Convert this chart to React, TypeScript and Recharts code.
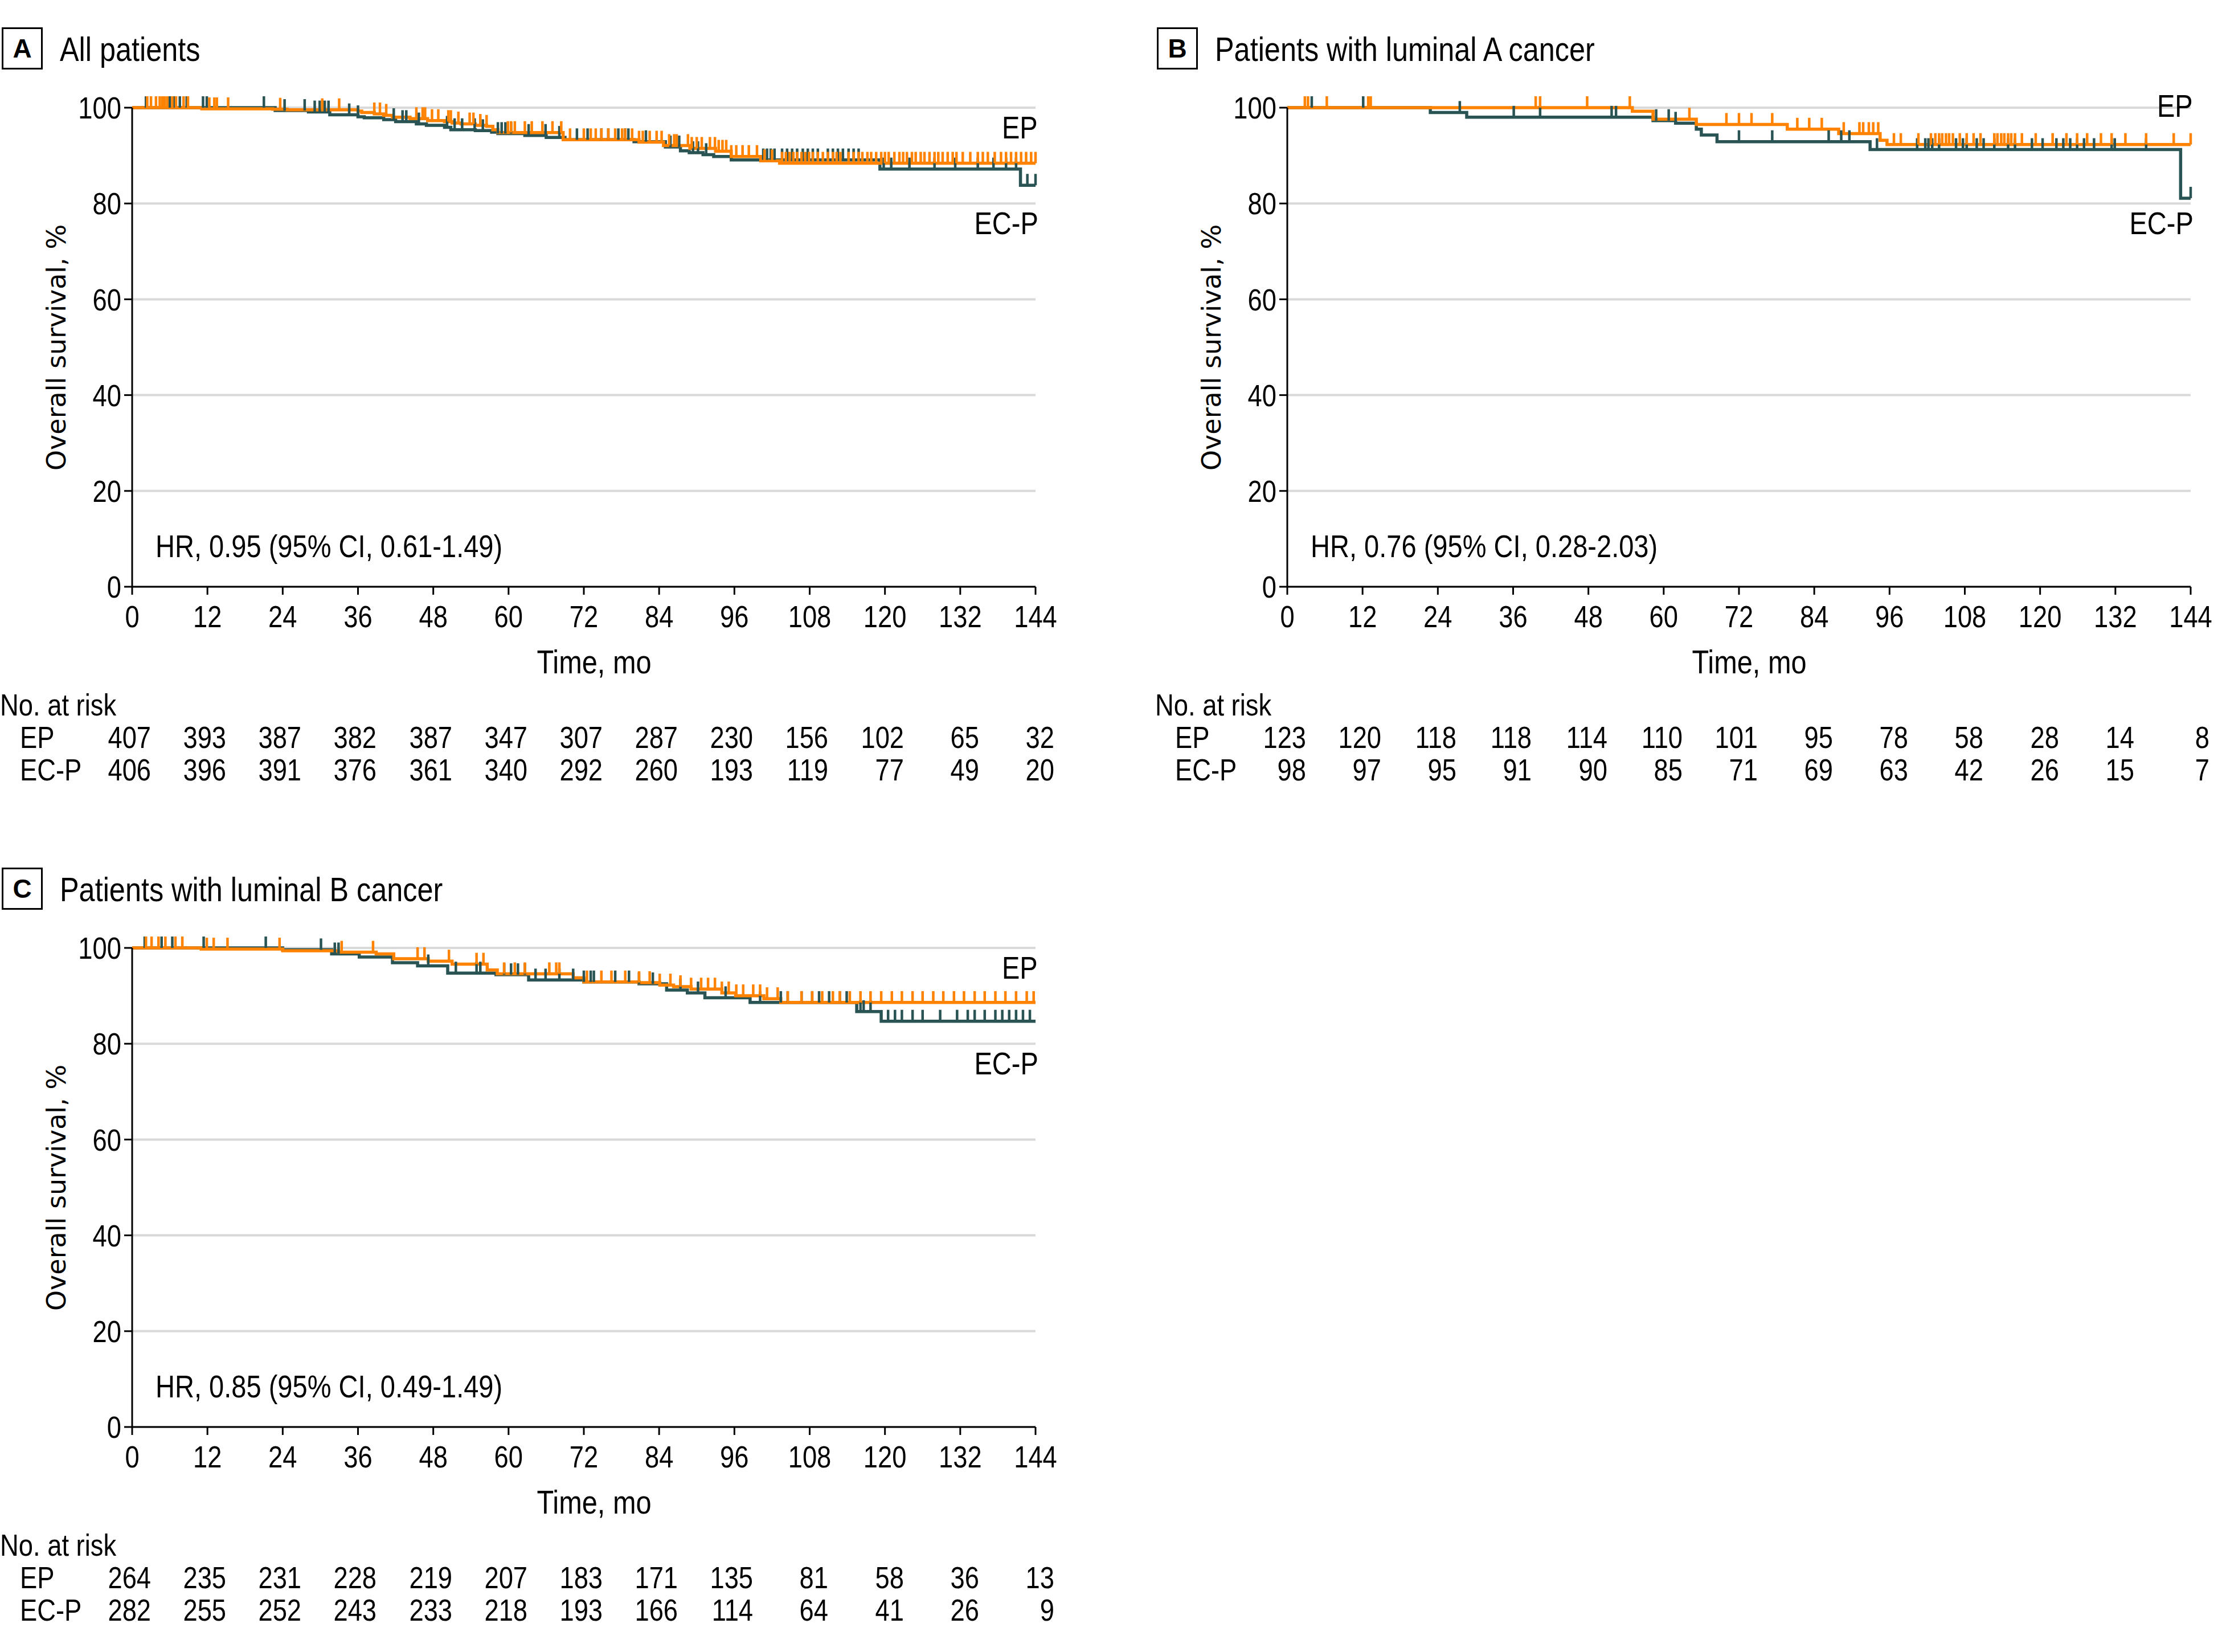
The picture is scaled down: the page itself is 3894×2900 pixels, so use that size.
import { ComposedChart, Line, Scatter, XAxis, YAxis, CartesianGrid } from 'recharts';

const monthTicks = [0, 12, 24, 36, 48, 60, 72, 84, 96, 108, 120, 132, 144];
const survTicks = [0, 20, 40, 60, 80, 100];

// A: all patients
const aEpTime = [0, 11.1, 22.4, 24.7, 36.0, 36.6, 38.6, 40.1, 41.5, 44.3, 47.1, 49.8, 51.0, 52.4, 54.7, 56.5, 57.5, 58.3, 68.7, 80.8, 84.7, 88.9, 93.0, 95.5, 100.2, 103.2, 144];
const aEpSurv = [100, 99.76, 99.68, 99.56, 99.29, 99.0, 98.7, 98.4, 98.0, 97.7, 97.3, 97.1, 96.8, 96.6, 96.3, 96.1, 95.4, 94.8, 93.3, 92.8, 92.1, 91.5, 90.9, 89.8, 88.9, 88.4, 88.4];
const aEpCensor = [2.4, 3.0, 3.8, 4.4, 4.8, 5.2, 5.6, 6.4, 7.0, 8.2, 8.9, 12.3, 13.1, 13.5, 15.3, 23.6, 30.3, 33.0, 38.6, 39.5, 40.5, 45.3, 46.3, 46.7, 47.8, 48.8, 50.4, 50.8, 52.0, 53.8, 54.4, 55.5, 56.5, 59.9, 60.4, 61.0, 62.6, 63.7, 65.4, 67.0, 68.4, 69.8, 72.0, 73.1, 73.9, 74.8, 75.9, 77.0, 78.1, 78.6, 79.7, 80.8, 81.4, 82.5, 83.6, 84.4, 85.6, 86.4, 86.8, 88.6, 89.2, 90.0, 90.8, 92.1, 92.9, 93.5, 94.1, 94.7, 95.5, 96.3, 97.3, 98.3, 99.6, 100.8, 102.0, 103.6, 104.2, 104.8, 105.4, 106.0, 106.7, 107.3, 107.9, 108.5, 109.3, 110.1, 110.9, 111.7, 112.3, 112.9, 114.2, 115.0, 115.8, 116.4, 117.2, 117.8, 118.6, 119.4, 120.0, 120.6, 121.5, 122.3, 122.9, 123.5, 124.3, 124.9, 125.7, 126.3, 127.1, 127.9, 128.5, 129.2, 130.0, 130.8, 131.4, 132.4, 133.6, 134.8, 135.6, 136.4, 137.5, 138.5, 139.3, 140.1, 140.9, 141.7, 142.5, 143.3, 144.0];
const aEcTime = [0, 22.8, 28.1, 31.5, 36.0, 37.0, 40.1, 42.0, 45.3, 46.9, 49.8, 50.8, 54.7, 57.3, 58.3, 62.6, 66.0, 69.0, 80.0, 85.0, 87.4, 88.8, 91.0, 92.7, 95.5, 119.2, 141.6, 144];
const aEcSurv = [100, 99.4, 99.1, 98.5, 98.1, 97.9, 97.5, 97.1, 96.6, 96.3, 95.9, 95.4, 95.2, 94.9, 94.6, 94.2, 93.8, 93.3, 92.9, 91.8, 91.0, 90.6, 90.2, 89.8, 89.1, 87.2, 83.8, 83.8];
const aEcCensor = [2.2, 6.0, 6.6, 7.6, 8.7, 11.3, 11.9, 21.0, 24.3, 27.5, 29.1, 29.9, 30.7, 31.3, 34.6, 36.0, 41.7, 43.1, 43.7, 45.7, 50.2, 51.4, 52.6, 54.6, 55.9, 58.3, 58.9, 59.5, 60.4, 63.2, 65.9, 68.1, 70.9, 72.6, 74.8, 75.9, 77.5, 78.6, 79.1, 81.9, 85.8, 87.2, 89.4, 90.2, 91.5, 100.6, 101.2, 101.8, 102.4, 103.6, 104.4, 105.2, 106.0, 106.9, 107.7, 108.5, 109.3, 110.9, 111.7, 112.5, 113.3, 114.2, 115.0, 115.8, 119.8, 121.0, 123.9, 127.9, 131.2, 134.8, 137.3, 139.3, 140.9, 142.7, 144.0];
const aRiskEp = [407, 393, 387, 382, 387, 347, 307, 287, 230, 156, 102, 65, 32];
const aRiskEc = [406, 396, 391, 376, 361, 340, 292, 260, 193, 119, 77, 49, 20];

// B: luminal A
const bEpTime = [0, 55.0, 58.3, 65.2, 79.7, 87.9, 94.5, 95.6, 144];
const bEpSurv = [100, 99.25, 97.6, 96.5, 95.5, 94.6, 93.2, 92.3, 92.3];
const bEpCensor = [2.8, 3.3, 6.3, 12.9, 13.3, 39.6, 40.3, 47.8, 54.6, 64.1, 70.0, 72.0, 74.0, 77.3, 81.3, 83.2, 85.2, 88.7, 91.2, 91.8, 92.7, 93.4, 94.2, 96.7, 97.8, 100.6, 102.6, 103.3, 103.9, 104.4, 105.0, 105.5, 106.1, 107.2, 108.3, 109.4, 110.5, 112.7, 113.2, 113.8, 114.3, 114.9, 115.4, 116.0, 117.1, 119.3, 122.0, 124.2, 125.9, 127.5, 129.7, 131.4, 133.6, 136.9, 141.3, 144.0];
const bEcTime = [0, 22.8, 28.6, 58.3, 61.9, 65.2, 66.0, 68.5, 92.9, 142.4, 144];
const bEcSurv = [100, 99.0, 98.0, 97.3, 96.75, 95.5, 94.3, 92.9, 91.25, 81.1, 81.1];
const bEcCensor = [3.9, 12.1, 27.5, 36.1, 40.3, 51.7, 52.4, 58.8, 60.8, 61.9, 72.0, 77.3, 86.3, 88.3, 89.6, 94.0, 100.4, 101.7, 102.2, 102.8, 103.9, 106.6, 107.7, 108.3, 109.9, 111.0, 112.7, 114.9, 116.0, 118.7, 120.4, 122.6, 123.7, 124.8, 125.9, 127.0, 128.6, 131.4, 131.9, 136.9, 144.0];
const bRiskEp = [123, 120, 118, 118, 114, 110, 101, 95, 78, 58, 28, 14, 8];
const bRiskEc = [98, 97, 95, 91, 90, 85, 71, 69, 63, 42, 26, 15, 7];

// C: luminal B
const cEpTime = [0, 11.0, 24.0, 32.9, 38.9, 41.7, 47.2, 51.0, 56.6, 58.2, 70.3, 72.0, 80.8, 84.1, 86.3, 89.1, 94.0, 96.2, 100.7, 103.4, 144];
const cEpSurv = [100, 99.75, 99.4, 99.1, 98.75, 97.75, 97.25, 96.6, 95.4, 94.6, 93.75, 92.9, 92.75, 92.25, 91.9, 91.4, 90.6, 90.0, 89.4, 88.6, 88.6];
const cEpCensor = [2.2, 3.1, 4.2, 5.3, 6.9, 8.0, 11.9, 13.0, 15.2, 23.5, 33.4, 38.4, 45.5, 46.6, 50.5, 54.9, 56.0, 59.3, 61.0, 62.6, 66.5, 67.6, 68.1, 72.5, 74.8, 76.4, 78.6, 80.8, 82.5, 84.1, 85.8, 87.4, 89.1, 90.7, 91.8, 92.9, 94.0, 95.1, 96.3, 97.4, 99.0, 100.1, 101.2, 102.9, 104.5, 106.7, 108.4, 110.0, 111.7, 112.8, 114.4, 116.1, 117.7, 119.4, 121.1, 122.7, 124.4, 126.0, 127.7, 129.3, 131.0, 132.6, 134.3, 135.9, 137.6, 139.2, 140.9, 142.6, 143.7];
const cEcTime = [0, 24.0, 31.8, 36.2, 41.5, 45.5, 50.3, 58.0, 63.2, 72.0, 80.8, 85.2, 88.5, 91.3, 98.5, 115.5, 119.4, 144];
const cEcSurv = [100, 99.6, 98.75, 98.1, 96.9, 96.25, 94.75, 94.4, 93.3, 92.9, 92.5, 91.2, 90.6, 89.6, 88.6, 86.7, 84.7, 84.7];
const cEcCensor = [2.0, 4.7, 6.4, 11.4, 21.3, 30.1, 32.3, 32.9, 47.2, 51.6, 54.9, 55.5, 59.3, 60.4, 61.5, 62.6, 64.3, 65.9, 68.1, 70.3, 72.0, 73.1, 73.6, 77.0, 79.2, 80.8, 83.0, 87.4, 90.2, 94.6, 100.1, 103.4, 104.5, 106.7, 108.4, 109.5, 111.1, 112.8, 113.9, 116.1, 116.6, 117.7, 120.5, 121.6, 122.7, 124.4, 126.0, 128.8, 131.5, 133.2, 134.3, 135.9, 137.6, 138.7, 139.8, 140.9, 142.0, 143.1];
const cRiskEp = [264, 235, 231, 228, 219, 207, 183, 171, 135, 81, 58, 36, 13];
const cRiskEc = [282, 255, 252, 243, 233, 218, 193, 166, 114, 64, 41, 26, 9];

const ORANGE = '#FF8300';
const TEAL = '#2A5454';
const FONT = '"Liberation Sans", Arial, sans-serif';
const SQUEEZE = 0.84; // the source uses a condensed face

// plot geometry inside a panel
const PLOT_L = 232;
const PLOT_R = 1818;
const PLOT_T = 189;
const PLOT_B = 1030;
const CHART_W = 1866;
const CHART_H = 1130;

const steps = (times: number[], surv: number[]) => times.map((t, i) => ({ t, s: surv[i] }));

const survAt = (times: number[], surv: number[], t: number) => {
  let v = surv[0];
  for (let i = 0; i < times.length; i++) if (times[i] <= t) v = surv[i];
  return v;
};

const marks = (times: number[], surv: number[], censor: number[]) =>
  censor.map((t) => ({ t, s: survAt(times, surv, t) }));

const censorShape = (color: string) => (props: any) => (
  <line x1={props.cx} x2={props.cx} y1={props.cy} y2={props.cy - 20} stroke={color} strokeWidth={4.5} />
);

const XTick = (props: any) => (
  <text
    transform={`translate(${props.x},${props.y}) scale(${SQUEEZE},1)`}
    textAnchor="middle"
    dy="0.71em"
    fontSize={54}
    fontFamily={FONT}
    fill="#000"
  >
    {props.payload.value}
  </text>
);

const YTick = (props: any) => (
  <text
    transform={`translate(${props.x},${props.y}) scale(${SQUEEZE},1)`}
    textAnchor="end"
    dy="0.355em"
    fontSize={54}
    fontFamily={FONT}
    fill="#000"
  >
    {props.payload.value}
  </text>
);

const txt = (extra: any) => ({
  position: 'absolute' as const,
  fontFamily: FONT,
  lineHeight: 1,
  whiteSpace: 'nowrap' as const,
  color: '#000',
  ...extra,
});

interface PanelProps {
  ox: number;
  oy: number;
  letter: string;
  title: string;
  hr: string;
  epLabelY: number;
  epTime: number[];
  epSurv: number[];
  epCensor: number[];
  ecTime: number[];
  ecSurv: number[];
  ecCensor: number[];
  riskEp: number[];
  riskEc: number[];
}

function Panel(p: PanelProps) {
  const epLine = steps(p.epTime, p.epSurv);
  const ecLine = steps(p.ecTime, p.ecSurv);
  const epMarks = marks(p.epTime, p.epSurv, p.epCensor);
  const ecMarks = marks(p.ecTime, p.ecSurv, p.ecCensor);
  const colX = (m: number) => p.ox + PLOT_L + (m / 144) * (PLOT_R - PLOT_L);
  const sqL = `scale(${SQUEEZE},1)`;

  return (
    <>
      <div style={{ position: 'absolute', left: p.ox, top: p.oy, width: CHART_W, height: CHART_H }}>
        <ComposedChart
          width={CHART_W}
          height={CHART_H}
          margin={{ top: PLOT_T, right: CHART_W - PLOT_R, bottom: 0, left: 0 }}
        >
          <CartesianGrid horizontal vertical={false} stroke="#d9d9d9" strokeWidth={4} />
          <XAxis
            type="number"
            dataKey="t"
            domain={[0, 144]}
            ticks={monthTicks}
            interval={0}
            height={CHART_H - PLOT_B}
            axisLine={{ stroke: '#000', strokeWidth: 3 }}
            tickLine={{ stroke: '#000', strokeWidth: 3 }}
            tickSize={14}
            tickMargin={19}
            tick={<XTick />}
          />
          <YAxis
            type="number"
            domain={[0, 100]}
            ticks={survTicks}
            interval={0}
            width={PLOT_L}
            axisLine={{ stroke: '#000', strokeWidth: 3 }}
            tickLine={{ stroke: '#000', strokeWidth: 3 }}
            tickSize={14}
            tickMargin={5}
            tick={<YTick />}
          />
          <Line data={ecLine} dataKey="s" type="stepAfter" stroke={TEAL} strokeWidth={5.5} dot={false} activeDot={false} isAnimationActive={false} />
          <Scatter data={ecMarks} dataKey="s" shape={censorShape(TEAL)} isAnimationActive={false} />
          <Line data={epLine} dataKey="s" type="stepAfter" stroke={ORANGE} strokeWidth={5.5} dot={false} activeDot={false} isAnimationActive={false} />
          <Scatter data={epMarks} dataKey="s" shape={censorShape(ORANGE)} isAnimationActive={false} />
        </ComposedChart>
      </div>

      {/* panel heading */}
      <div
        style={{
          position: 'absolute', left: p.ox + 3, top: p.oy + 48, width: 72, height: 74, boxSizing: 'border-box',
          border: '3px solid #000', display: 'flex', alignItems: 'center', justifyContent: 'center',
          fontFamily: FONT, fontWeight: 700, fontSize: 46,
        }}
      >
        {p.letter}
      </div>
      <div style={txt({ left: p.ox + 105, top: p.oy + 87, transform: `translateY(-50%) ${sqL}`, transformOrigin: 'left center', fontSize: 60 })}>
        {p.title}
      </div>

      {/* axis titles */}
      <div
        style={txt({
          left: p.ox + 99, top: p.oy + 610, transform: 'translate(-50%, -50%) rotate(-90deg)',
          fontFamily: '"DejaVu Sans", sans-serif', fontSize: 46,
        })}
      >
        Overall survival, %
      </div>
      <div style={txt({ left: p.ox + 1043, top: p.oy + 1162, transform: `translate(-50%, -50%) ${sqL}`, fontSize: 58 })}>Time, mo</div>

      {/* in-plot annotations */}
      <div style={txt({ left: p.ox + 273, top: p.oy + 959, transform: `translateY(-50%) ${sqL}`, transformOrigin: 'left center', fontSize: 56 })}>
        {p.hr}
      </div>
      <div style={txt({ right: 3894 - (p.ox + 1822), top: p.oy + p.epLabelY, transform: `translateY(-50%) ${sqL}`, transformOrigin: 'right center', fontSize: 56 })}>
        EP
      </div>
      <div style={txt({ right: 3894 - (p.ox + 1823), top: p.oy + 392, transform: `translateY(-50%) ${sqL}`, transformOrigin: 'right center', fontSize: 56 })}>
        EC-P
      </div>

      {/* number at risk */}
      <div style={txt({ left: p.ox, top: p.oy + 1237, transform: `translateY(-50%) ${sqL}`, transformOrigin: 'left center', fontSize: 54 })}>No. at risk</div>
      <div style={txt({ left: p.ox + 35, top: p.oy + 1294, transform: `translateY(-50%) ${sqL}`, transformOrigin: 'left center', fontSize: 54 })}>EP</div>
      <div style={txt({ left: p.ox + 35, top: p.oy + 1351, transform: `translateY(-50%) ${sqL}`, transformOrigin: 'left center', fontSize: 54 })}>EC-P</div>
      {p.riskEp.map((n, i) => (
        <div
          key={'ep' + i}
          style={txt({ right: 3894 - (colX(monthTicks[i]) + 33), top: p.oy + 1294, transform: `translateY(-50%) ${sqL}`, transformOrigin: 'right center', fontSize: 54 })}
        >
          {n}
        </div>
      ))}
      {p.riskEc.map((n, i) => (
        <div
          key={'ec' + i}
          style={txt({ right: 3894 - (colX(monthTicks[i]) + 33), top: p.oy + 1351, transform: `translateY(-50%) ${sqL}`, transformOrigin: 'right center', fontSize: 54 })}
        >
          {n}
        </div>
      ))}
    </>
  );
}

export default function App() {
  return (
    <div style={{ position: 'absolute', left: 0, top: 0, width: 3894, height: 2900, background: '#fff', overflow: 'hidden' }}>
      <Panel
        ox={0} oy={0} letter="A" title="All patients" hr="HR, 0.95 (95% CI, 0.61-1.49)" epLabelY={224}
        epTime={aEpTime} epSurv={aEpSurv} epCensor={aEpCensor}
        ecTime={aEcTime} ecSurv={aEcSurv} ecCensor={aEcCensor}
        riskEp={aRiskEp} riskEc={aRiskEc}
      />
      <Panel
        ox={2028} oy={0} letter="B" title="Patients with luminal A cancer" hr="HR, 0.76 (95% CI, 0.28-2.03)" epLabelY={186}
        epTime={bEpTime} epSurv={bEpSurv} epCensor={bEpCensor}
        ecTime={bEcTime} ecSurv={bEcSurv} ecCensor={bEcCensor}
        riskEp={bRiskEp} riskEc={bRiskEc}
      />
      <Panel
        ox={0} oy={1475} letter="C" title="Patients with luminal B cancer" hr="HR, 0.85 (95% CI, 0.49-1.49)" epLabelY={224}
        epTime={cEpTime} epSurv={cEpSurv} epCensor={cEpCensor}
        ecTime={cEcTime} ecSurv={cEcSurv} ecCensor={cEcCensor}
        riskEp={cRiskEp} riskEc={cRiskEc}
      />
    </div>
  );
}
